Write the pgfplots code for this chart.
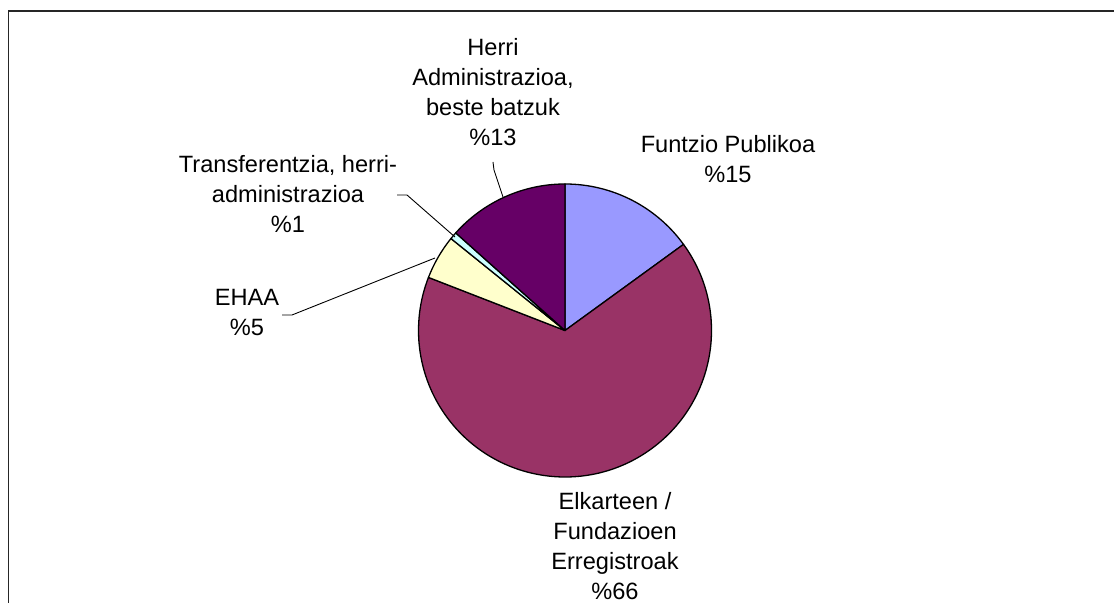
\documentclass[border=0pt]{standalone}
\usepackage{fontspec}
\setmainfont{Liberation Sans}
\usepackage{pgfplots}
\usepackage{pgfplotstable}
\pgfplotsset{compat=1.18}

\definecolor{funtzio}{HTML}{9999FF}
\definecolor{elkarte}{HTML}{993366}
\definecolor{ehaa}{HTML}{FFFFCC}
\definecolor{transf}{HTML}{CCFFFF}
\definecolor{herri}{HTML}{660066}

% shares in percent, clockwise from 12 o'clock
\pgfplotstableread{
pct col
15.0 funtzio
65.9 elkarte
4.9 ehaa
0.8 transf
13.4 herri
}\piedata

\newcommand\lab{\fontsize{11.8}{15}\selectfont}

\begin{document}
\begin{tikzpicture}
\begin{axis}[
  name=ax,
  scale only axis,
  width=557pt, height=301.5pt,
  xmin=0, xmax=1114, ymin=0, ymax=603,
  hide axis, clip=false,
]
  % frame (cut off at right and bottom)
  \addplot[black!85, line width=0.75pt] coordinates {(8.5,0) (8.5,592) (1114,592)};

  \def\cx{565}\def\cy{272.5}
  \def\start{90}
  \pgfplotsforeachungrouped \i in {0,...,4}{
    \pgfplotstablegetelem{\i}{pct}\of\piedata \let\slicepct\pgfplotsretval
    \pgfplotstablegetelem{\i}{col}\of\piedata \let\slicecol\pgfplotsretval
    \pgfmathsetmacro\stop{\start-3.6*\slicepct}
    \edef\temp{\noexpand\filldraw[fill=\slicecol, draw=black, line width=0.65pt, line join=round]
      (axis cs:\cx,\cy) -- +(\start:73.25pt) arc[start angle=\start, end angle=\stop, radius=73.25pt] -- cycle;}
    \temp
    \global\let\start\stop
  }

  % leader lines
  \addplot[black, line width=0.45pt] coordinates {(493,441) (494,433) (503,406)};
  \addplot[black, line width=0.45pt] coordinates {(397,408) (407,408) (455,366)};
  \addplot[black, line width=0.45pt] coordinates {(282,288) (292,288) (435,345)};

  % labels
  \node[align=center, font=\lab] at (axis cs:493,511) {Herri\\Administrazioa,\\beste batzuk\\\%13};
  \node[align=center, font=\lab] at (axis cs:728,444) {Funtzio Publikoa\\\%15};
  \node[align=center, font=\lab] at (axis cs:288,409) {Transferentzia, herri-\\administrazioa\\\%1};
  \node[align=center, font=\lab] at (axis cs:247,290) {EHAA\\\%5};
  \node[align=center, font=\lab] at (axis cs:615,57) {Elkarteen /\\Fundazioen\\Erregistroak\\\%66};
\end{axis}
\pgfresetboundingbox
\path[use as bounding box] (ax.south west) rectangle (ax.north east);
\end{tikzpicture}
\end{document}
